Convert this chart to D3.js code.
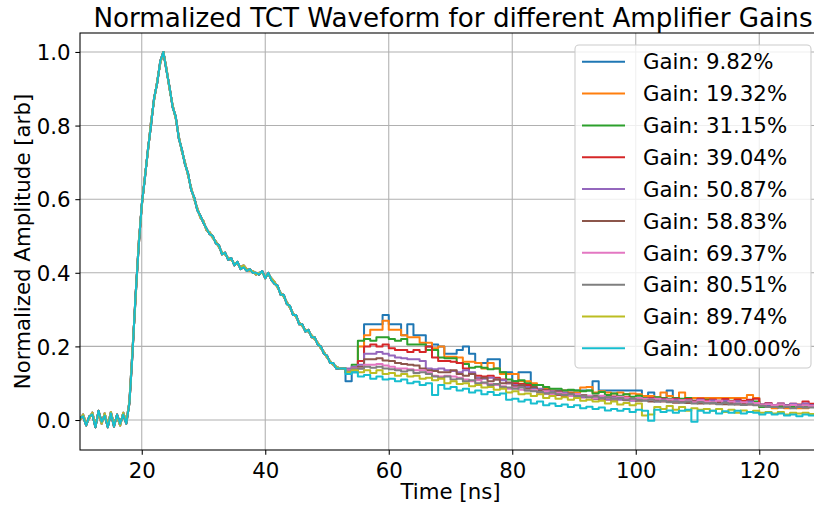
<!DOCTYPE html>
<html><head><meta charset="utf-8">
<script src="https://cdn.jsdelivr.net/npm/d3@7"></script>
<style>html,body{margin:0;padding:0;background:#fff;overflow:hidden}svg{display:block;font-family:"DejaVu Sans",sans-serif}</style>
</head><body><svg id="c" width="814" height="506"></svg>
<script>
const gains = ["Gain: 9.82%","Gain: 19.32%","Gain: 31.15%","Gain: 39.04%","Gain: 50.87%","Gain: 58.83%","Gain: 69.37%","Gain: 80.51%","Gain: 89.74%","Gain: 100.00%"];
const colors = ["#1f77b4","#ff7f0e","#2ca02c","#d62728","#9467bd","#8c564b","#e377c2","#7f7f7f","#bcbd22","#17becf"];
const xTicks = [20,40,60,80,100,120];
const yTicks = [0.0,0.2,0.4,0.6,0.8,1.0];

// common pulse, 0.5 ns sampling from 10 to 52 ns
const baseA = [0.0,0.015,-0.01,0.005,0.02,-0.015,0.02,-0.01,0.018,-0.015,
0.022,-0.012,0.01,-0.015,0.02,-0.005,0.05,0.19,0.33,0.48,
0.58,0.66,0.73,0.81,0.87,0.92,0.97,1.0,0.955,0.9,
0.855,0.82,0.77,0.73,0.70,0.665,0.63,0.6,0.575,0.55,
0.54,0.515,0.51,0.495,0.485,0.47,0.455,0.45,0.44,0.435,
0.425,0.425,0.415,0.42,0.41,0.405,0.405,0.395,0.40,0.40,
0.39,0.395,0.385,0.375,0.36,0.345,0.335,0.32,0.305,0.29,
0.28,0.265,0.255,0.245,0.24,0.23,0.22,0.21,0.195,0.185,
0.17,0.16,0.15,0.145,0.14];
const baseB = [0.005,0.01,-0.015,0.01,0.015,-0.02,0.025,-0.005,0.012,-0.02,
0.018,-0.018,0.015,-0.01,0.015,-0.01,0.045,0.18,0.34,0.47,
0.585,0.655,0.735,0.80,0.875,0.915,0.975,1.0,0.95,0.905,
0.85,0.825,0.765,0.735,0.695,0.67,0.625,0.605,0.57,0.555,
0.535,0.52,0.505,0.5,0.48,0.475,0.45,0.455,0.435,0.44,
0.42,0.43,0.41,0.415,0.405,0.41,0.40,0.4,0.395,0.405,
0.385,0.4,0.38,0.37,0.365,0.34,0.34,0.315,0.31,0.285,
0.285,0.26,0.26,0.24,0.245,0.225,0.225,0.205,0.2,0.18,
0.175,0.155,0.155,0.14,0.14];

// tails, 1 ns sampling from 52 to 129 ns
const tail982 = [0.14,0.105,0.13,0.14,0.26,0.26,0.26,0.285,0.26,0.26,
0.23,0.26,0.23,0.23,0.2,0.205,0.2,0.18,0.18,0.19,
0.2,0.18,0.155,0.155,0.165,0.165,0.13,0.13,0.105,0.13,
0.13,0.085,0.08,0.08,0.08,0.08,0.08,0.08,0.08,0.08,
0.08,0.105,0.08,0.08,0.08,0.08,0.08,0.08,0.08,0.06,
0.075,0.06,0.06,0.08,0.05,0.05,0.05,0.05,0.05,0.05,
0.05,0.05,0.05,0.05,0.05,0.05,0.05,0.06,0.04,0.04,
0.04,0.04,0.04,0.04,0.04,0.04,0.04,0.04];
const tail1932 = [0.14,0.13,0.14,0.2,0.23,0.245,0.245,0.27,0.245,0.245,
0.23,0.225,0.225,0.21,0.21,0.195,0.2,0.172,0.172,0.17,
0.158,0.158,0.155,0.14,0.155,0.14,0.125,0.125,0.125,0.105,
0.105,0.1,0.095,0.085,0.08,0.075,0.08,0.075,0.075,0.088,
0.09,0.075,0.078,0.075,0.072,0.075,0.07,0.072,0.07,0.065,
0.065,0.062,0.075,0.065,0.06,0.075,0.06,0.06,0.06,0.06,
0.06,0.06,0.06,0.06,0.06,0.06,0.068,0.06,0.035,0.035,
0.032,0.035,0.032,0.035,0.032,0.032,0.035,0.032];
const tail3115 = [0.14,0.135,0.15,0.215,0.22,0.215,0.225,0.225,0.22,0.215,
0.22,0.205,0.205,0.205,0.19,0.19,0.17,0.168,0.168,0.155,
0.152,0.142,0.145,0.142,0.138,0.14,0.13,0.11,0.105,0.108,
0.1,0.095,0.095,0.09,0.085,0.085,0.08,0.082,0.08,0.078,
0.08,0.072,0.076,0.068,0.072,0.066,0.07,0.063,0.066,0.06,
0.06,0.062,0.06,0.058,0.06,0.058,0.06,0.052,0.052,0.055,
0.052,0.052,0.05,0.052,0.052,0.05,0.052,0.05,0.035,0.035,
0.035,0.038,0.035,0.035,0.038,0.035,0.035,0.035];
const tail3904 = [0.14,0.13,0.14,0.16,0.2,0.205,0.2,0.205,0.195,0.19,
0.19,0.185,0.19,0.185,0.2,0.17,0.16,0.16,0.158,0.155,
0.14,0.125,0.12,0.118,0.12,0.115,0.11,0.1,0.1,0.098,
0.095,0.08,0.075,0.072,0.07,0.068,0.065,0.068,0.065,0.062,
0.065,0.058,0.062,0.056,0.064,0.058,0.062,0.056,0.06,0.055,
0.06,0.055,0.058,0.052,0.058,0.054,0.057,0.052,0.058,0.053,
0.056,0.052,0.057,0.051,0.056,0.052,0.055,0.058,0.042,0.046,
0.04,0.045,0.04,0.044,0.042,0.05,0.044,0.046];
const tail5087 = [0.14,0.14,0.145,0.15,0.18,0.18,0.185,0.18,0.175,0.17,
0.168,0.165,0.165,0.16,0.14,0.138,0.14,0.135,0.133,0.13,
0.135,0.13,0.115,0.112,0.115,0.11,0.108,0.1,0.095,0.092,
0.09,0.082,0.085,0.075,0.078,0.07,0.074,0.065,0.07,0.062,
0.066,0.058,0.064,0.056,0.062,0.055,0.06,0.052,0.058,0.054,
0.058,0.05,0.056,0.05,0.055,0.048,0.054,0.05,0.055,0.048,
0.053,0.047,0.052,0.046,0.051,0.045,0.05,0.046,0.042,0.045,
0.04,0.045,0.04,0.044,0.041,0.045,0.04,0.043];
const tail5883 = [0.14,0.135,0.14,0.145,0.165,0.165,0.168,0.162,0.16,0.155,
0.152,0.15,0.148,0.14,0.135,0.133,0.13,0.13,0.135,0.125,
0.12,0.125,0.11,0.115,0.105,0.11,0.1,0.102,0.092,0.095,
0.085,0.09,0.08,0.082,0.072,0.078,0.07,0.072,0.064,0.068,
0.062,0.066,0.058,0.062,0.055,0.06,0.054,0.058,0.052,0.056,
0.05,0.055,0.05,0.053,0.047,0.052,0.046,0.05,0.045,0.049,
0.045,0.048,0.043,0.047,0.042,0.046,0.042,0.045,0.04,0.043,
0.038,0.042,0.037,0.041,0.036,0.04,0.037,0.039];
const tail6937 = [0.14,0.135,0.14,0.14,0.15,0.15,0.152,0.148,0.145,0.14,
0.14,0.138,0.135,0.135,0.13,0.12,0.118,0.12,0.118,0.115,
0.11,0.105,0.108,0.1,0.098,0.095,0.092,0.085,0.088,0.082,
0.08,0.082,0.075,0.078,0.07,0.074,0.07,0.065,0.07,0.066,
0.065,0.06,0.066,0.062,0.058,0.063,0.06,0.055,0.06,0.058,
0.055,0.058,0.052,0.056,0.05,0.054,0.052,0.048,0.053,0.05,
0.048,0.052,0.046,0.05,0.045,0.048,0.043,0.046,0.04,0.043,
0.04,0.042,0.038,0.041,0.037,0.04,0.038,0.036];
const tail8051 = [0.14,0.132,0.138,0.14,0.145,0.142,0.145,0.14,0.138,0.135,
0.132,0.135,0.128,0.13,0.125,0.118,0.115,0.118,0.11,0.112,
0.105,0.108,0.1,0.102,0.095,0.098,0.09,0.088,0.085,0.088,
0.08,0.078,0.076,0.072,0.075,0.07,0.068,0.07,0.065,0.066,
0.062,0.064,0.06,0.062,0.058,0.06,0.055,0.058,0.055,0.052,
0.055,0.05,0.052,0.048,0.05,0.047,0.05,0.045,0.048,0.045,
0.046,0.043,0.046,0.042,0.044,0.041,0.043,0.04,0.038,0.035,
0.035,0.033,0.036,0.032,0.035,0.033,0.034,0.032];
const tail8974 = [0.14,0.13,0.135,0.13,0.135,0.128,0.135,0.125,0.128,0.12,
0.125,0.118,0.12,0.112,0.115,0.108,0.112,0.1,0.105,0.098,
0.1,0.092,0.095,0.088,0.09,0.082,0.085,0.075,0.078,0.07,
0.072,0.065,0.07,0.06,0.065,0.058,0.062,0.055,0.06,0.052,
0.055,0.05,0.052,0.045,0.05,0.042,0.046,0.04,0.045,0.012,
0.015,0.035,0.03,0.038,0.028,0.035,0.025,0.032,0.028,0.03,
0.025,0.03,0.022,0.028,0.02,0.026,0.022,0.025,0.02,0.022,
0.018,0.022,0.015,0.02,0.018,0.02,0.016,0.018];
const tail10000 = [0.14,0.125,0.13,0.118,0.122,0.112,0.118,0.11,0.112,0.105,
0.11,0.1,0.104,0.095,0.1,0.068,0.095,0.085,0.09,0.08,
0.085,0.075,0.08,0.07,0.076,0.068,0.072,0.055,0.058,0.05,
0.055,0.045,0.05,0.04,0.045,0.038,0.042,0.035,0.04,0.032,
0.036,0.03,0.034,0.026,0.03,0.025,0.03,0.022,0.028,0.025,
-0.002,0.028,0.022,0.026,0.02,0.025,0.028,-0.005,0.025,0.02,
0.025,0.018,0.024,0.02,0.025,0.018,0.022,0.02,0.015,0.02,
0.015,0.018,0.012,0.015,0.01,0.015,0.012,0.015];

const tails = [tail982,tail1932,tail3115,tail3904,tail5087,tail5883,tail6937,tail8051,tail8974,tail10000];
const bases = [baseA,baseB,baseA,baseB,baseA,baseB,baseA,baseB,baseA,baseB];

const baseTimes = baseA.map((_, i) => 10 + i * 0.5);
const tailTimes = tail982.map((_, i) => 52 + i);

const svg = d3.select("#c");
const L = 80, T = 33, R = 821, B = 450;
const x = d3.scaleLinear().domain([10, 130]).range([L, R]);
const y = d3.scaleLinear().domain([-0.0815, 1.0515]).range([B, T]);
const fs = 21.3;

// grid
const grid = svg.append("g");
grid.selectAll(".gx").data(xTicks).join("line")
  .attr("x1", d => x(d)).attr("x2", d => x(d)).attr("y1", T).attr("y2", B)
  .attr("stroke", "#b0b0b0").attr("stroke-width", 1.07);
grid.selectAll(".gy").data(yTicks).join("line")
  .attr("x1", L).attr("x2", R).attr("y1", d => y(d)).attr("y2", d => y(d))
  .attr("stroke", "#b0b0b0").attr("stroke-width", 1.07);

svg.append("clipPath").attr("id", "clip").append("rect")
  .attr("x", L).attr("y", T).attr("width", R - L).attr("height", B - T);

const lin = d3.line().x(d => x(d[0])).y(d => y(d[1]));
const stp = d3.line().curve(d3.curveStepAfter).x(d => x(d[0])).y(d => y(d[1]));
const lines = svg.append("g").attr("clip-path", "url(#clip)");
tails.forEach((tl, i) => {
  const b = bases[i];
  const g = lines.append("g").attr("fill", "none").attr("stroke", colors[i])
    .attr("stroke-width", 2).attr("stroke-linejoin", "round").attr("stroke-linecap", "butt");
  g.append("path").attr("d", lin(baseTimes.map((t, k) => [t, b[k]])));
  g.append("path").attr("d", stp(tailTimes.map((t, k) => [t, tl[k]])));
});

// axes
const xa = svg.append("g").attr("transform", `translate(0,${B})`)
  .call(d3.axisBottom(x).tickValues(xTicks).tickFormat(d3.format("d")).tickSize(4.67).tickPadding(4.67));
const ya = svg.append("g").attr("transform", `translate(${L},0)`)
  .call(d3.axisLeft(y).tickValues(yTicks).tickFormat(d3.format(".1f")).tickSize(4.67).tickPadding(4.67));
[xa, ya].forEach(a => {
  a.select(".domain").remove();
  a.selectAll("line").attr("stroke", "#000").attr("stroke-width", 1.07);
  a.selectAll("text").attr("fill", "#000").style("font-size", fs + "px").style("font-family", "DejaVu Sans");
});
xa.selectAll("text").attr("dy", null).attr("y", 28);
ya.selectAll("text").attr("dy", "0.36em");

svg.append("rect").attr("x", L).attr("y", T).attr("width", R - L).attr("height", B - T)
  .attr("fill", "none").attr("stroke", "#000").attr("stroke-width", 1.07);

// labels
svg.append("text").attr("x", (L + R) / 2).attr("y", 499).attr("text-anchor", "middle")
  .style("font-size", fs + "px").text("Time [ns]");
svg.append("text").attr("transform", `translate(30,${(T + B) / 2}) rotate(-90)`).attr("text-anchor", "middle")
  .style("font-size", fs + "px").text("Normalized Amplitude [arb]");
svg.append("text").attr("x", 453).attr("y", 27).attr("text-anchor", "middle")
  .style("font-size", "26.2px").text("Normalized TCT Waveform for different Amplifier Gains");

// legend
const lg = svg.append("g");
lg.append("rect").attr("x", 575).attr("y", 45).attr("width", 236).attr("height", 323).attr("rx", 4)
  .attr("fill", "#fff").attr("fill-opacity", 0.8).attr("stroke", "#cccccc").attr("stroke-width", 1.07);
gains.forEach((g, i) => {
  const cy = 61.7 + i * 31.85;
  lg.append("line").attr("x1", 582).attr("x2", 625).attr("y1", cy).attr("y2", cy)
    .attr("stroke", colors[i]).attr("stroke-width", 2);
  lg.append("text").attr("x", 643).attr("y", cy + 7.7).style("font-size", fs + "px").text(g);
});
</script></body></html>
